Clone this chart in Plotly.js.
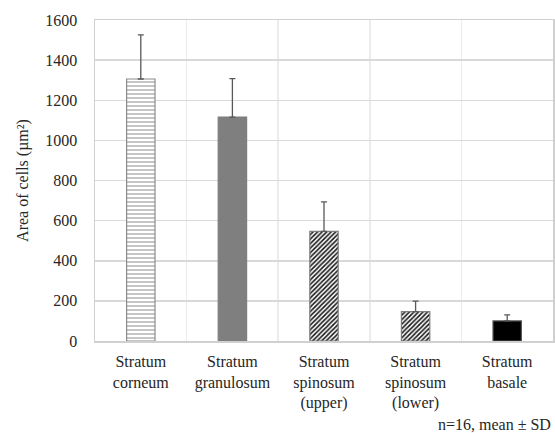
<!DOCTYPE html>
<html>
<head>
<meta charset="utf-8">
<script src="https://cdn.plot.ly/plotly-3.0.1.min.js"></script>
<style>html,body{margin:0;padding:0;background:#fff;}#chart{width:555px;height:433px;}</style>
</head>
<body>
<div id="chart"></div>
<script>
const categories = ["Stratum<br>corneum", "Stratum<br>granulosum", "Stratum<br>spinosum<br>(upper)", "Stratum<br>spinosum<br>(lower)", "Stratum<br>basale"];
const means = [1306, 1116, 546, 146, 100];
const sds = [220, 192, 147, 53, 30];
const yTicks = [0, 200, 400, 600, 800, 1000, 1200, 1400, 1600];

const fills = ["#ffffff", "#7f7f7f", "#ffffff", "#ffffff", "#000000"];
const shapes = ["-", "", "/", "/", ""];
const fg = ["#8c8c8c", "#7f7f7f", "#1a1a1a", "#1a1a1a", "#000000"];
const outline = ["#8c8c8c", "#7f7f7f", "#7f7f7f", "#7f7f7f", "#595959"];

const traces = categories.map((c, i) => ({
  type: "bar",
  x: [c],
  y: [means[i]],
  width: 0.31,
  marker: {
    color: fills[i],
    line: {color: outline[i], width: 1.2},
    pattern: {shape: shapes[i], fgcolor: fg[i], bgcolor: fills[i], size: shapes[i] === "-" ? 4 : 3.2, solidity: shapes[i] === "-" ? 0.25 : 0.5}
  },
  error_y: {type: "data", symmetric: false, array: [sds[i]], arrayminus: [0], color: "#595959", thickness: 1.3, width: 3},
  showlegend: false,
  hoverinfo: "skip"
}));

const F = "Liberation Serif, Times New Roman, serif";
const layout = {
  width: 555, height: 433,
  margin: {l: 95, r: 2, t: 20, b: 92},
  paper_bgcolor: "#ffffff", plot_bgcolor: "#ffffff",
  font: {family: F, size: 16, color: "#262626"},
  xaxis: {
    type: "category",
    categoryorder: "array", categoryarray: categories,
    tickson: "boundaries",
    showgrid: true, gridcolor: "#ececec", gridwidth: 1.5,
    ticks: "", ticklabelstandoff: 5,
    showline: true, linecolor: "#d0d0d0", linewidth: 1.5, mirror: true,
    tickfont: {size: 16, family: F, color: "#262626"},
    fixedrange: true
  },
  yaxis: {
    range: [0, 1600],
    tickvals: yTicks, ticktext: yTicks.map(String),
    showgrid: true, gridcolor: "#d9d9d9", gridwidth: 1.5,
    zeroline: false,
    ticks: "", ticklabelstandoff: 13,
    showline: true, linecolor: "#d0d0d0", linewidth: 1.5, mirror: true,
    tickfont: {size: 16, family: F, color: "#262626"},
    title: {text: "Area of cells (µm²)", font: {size: 16, family: F, color: "#262626"}, standoff: 12},
    fixedrange: true
  },
  annotations: [{
    text: "n=16, mean ± SD", xref: "paper", yref: "paper", x: 1.0, y: -0.26,
    xanchor: "right", yanchor: "middle", showarrow: false,
    font: {size: 16, family: F, color: "#262626"}
  }]
};

Plotly.newPlot("chart", traces, layout, {displayModeBar: false, staticPlot: true});
</script>
</body>
</html>
